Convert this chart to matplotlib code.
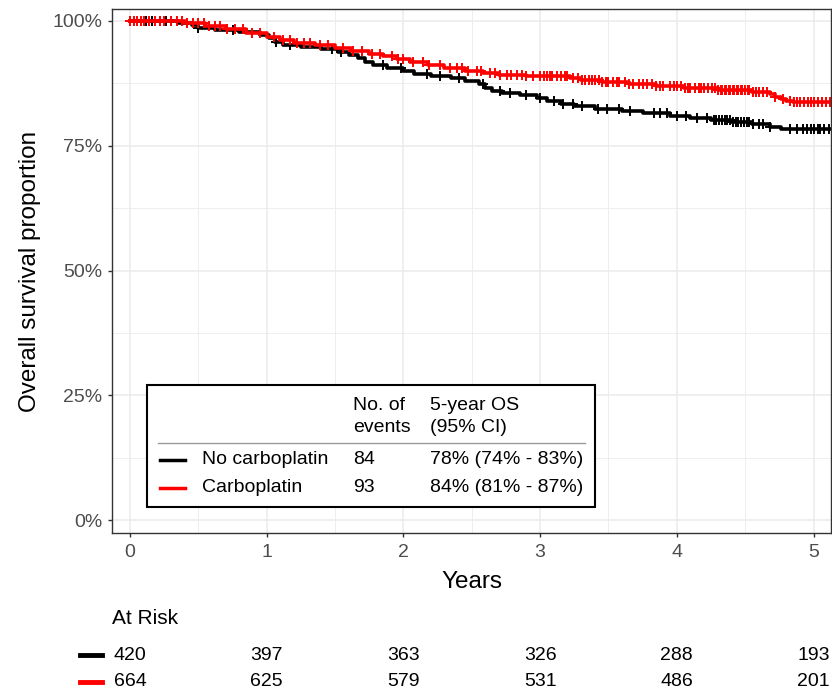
import matplotlib
matplotlib.use("Agg")
import matplotlib.pyplot as plt
import matplotlib.transforms as mtransforms
from matplotlib.lines import Line2D
from matplotlib.patches import Rectangle
import numpy as np

plt.rcParams['font.family'] = ['Liberation Sans', 'DejaVu Sans']

# Kaplan-Meier steps (time in years, survival after the step)
no_carbo_time = [0.0, 0.35, 0.45, 0.50, 0.62, 0.80, 0.95, 1.02, 1.06, 1.12, 1.25, 1.40,
                 1.52, 1.60, 1.67, 1.72, 1.78, 1.88, 2.00, 2.08, 2.20, 2.35, 2.45, 2.55,
                 2.60, 2.65, 2.72, 2.85, 2.98, 3.05, 3.15, 3.25, 3.40, 3.60, 3.75, 3.95,
                 4.10, 4.25, 4.40, 4.55, 4.68, 4.76, 5.30]
no_carbo_surv = [1.000, 0.996, 0.992, 0.985, 0.982, 0.978, 0.972, 0.965, 0.958, 0.952, 0.948, 0.943,
                 0.938, 0.932, 0.925, 0.918, 0.912, 0.906, 0.900, 0.894, 0.890, 0.885, 0.879, 0.873,
                 0.866, 0.860, 0.856, 0.851, 0.846, 0.840, 0.834, 0.830, 0.824, 0.820, 0.815, 0.810,
                 0.806, 0.802, 0.798, 0.794, 0.788, 0.783, 0.783]

carbo_time = [0.0, 0.40, 0.55, 0.70, 0.85, 1.00, 1.10, 1.20, 1.35, 1.50, 1.62, 1.75,
              1.85, 1.95, 2.05, 2.18, 2.30, 2.45, 2.58, 2.70, 2.90, 3.22, 3.30, 3.45,
              3.65, 3.85, 4.05, 4.30, 4.55, 4.68, 4.72, 4.76, 4.80, 4.85, 5.30]
carbo_surv = [1.000, 0.995, 0.990, 0.983, 0.976, 0.968, 0.962, 0.956, 0.951, 0.946, 0.940, 0.934,
              0.929, 0.924, 0.918, 0.912, 0.906, 0.900, 0.896, 0.892, 0.890, 0.886, 0.881, 0.877,
              0.873, 0.869, 0.865, 0.862, 0.858, 0.853, 0.848, 0.844, 0.840, 0.838, 0.838]

# censoring times
no_carbo_cens = [0.12, 0.16, 0.22, 0.26, 0.50, 0.75, 1.07, 1.17, 1.48, 1.54, 1.85, 1.98,
                 2.17, 2.27, 2.41, 2.58, 2.71, 2.78, 2.90, 3.00, 3.10, 3.17, 3.24, 3.31,
                 3.42, 3.49, 3.58, 3.66, 3.83, 3.88, 3.93, 4.00, 4.07, 4.15, 4.22, 4.27,
                 4.29, 4.31, 4.33, 4.35, 4.37, 4.39, 4.41, 4.43, 4.45, 4.47, 4.49, 4.51,
                 4.53, 4.56, 4.60, 4.63, 4.68, 4.83, 4.88, 4.92, 4.95, 4.98, 5.00, 5.03,
                 5.05, 5.08, 5.11]
carbo_cens = [0.00, 0.03, 0.05, 0.08, 0.10, 0.14, 0.18, 0.22, 0.25, 0.30, 0.34, 0.38,
              0.42, 0.46, 0.50, 0.54, 0.58, 0.62, 0.66, 0.71, 0.77, 0.83, 0.89, 0.95,
              1.05, 1.12, 1.17, 1.22, 1.27, 1.32, 1.39, 1.45, 1.56, 1.63, 1.70, 1.77,
              1.83, 1.92, 1.96, 2.00, 2.07, 2.14, 2.19, 2.27, 2.34, 2.39, 2.43, 2.47,
              2.54, 2.57, 2.63, 2.67, 2.71, 2.76, 2.79, 2.83, 2.87, 2.90, 2.95, 3.00,
              3.03, 3.05, 3.07, 3.09, 3.12, 3.15, 3.18, 3.20, 3.24, 3.28, 3.31, 3.33,
              3.36, 3.38, 3.40, 3.43, 3.45, 3.48, 3.50, 3.53, 3.56, 3.58, 3.62, 3.65,
              3.68, 3.72, 3.75, 3.78, 3.82, 3.85, 3.88, 3.90, 3.95, 3.98, 4.00, 4.03,
              4.06, 4.08, 4.10, 4.13, 4.16, 4.18, 4.20, 4.23, 4.26, 4.28, 4.30, 4.32,
              4.33, 4.35, 4.36, 4.38, 4.39, 4.41, 4.42, 4.44, 4.45, 4.47, 4.48, 4.50,
              4.52, 4.53, 4.56, 4.58, 4.60, 4.63, 4.66, 4.72, 4.78, 4.83, 4.86, 4.88,
              4.90, 4.93, 4.96, 4.98, 5.00, 5.03, 5.06, 5.09, 5.12]

group_names = ['No carboplatin', 'Carboplatin']
group_colors = ['black', '#FF0000']
n_events = ['84', '93']
os_5yr = ['78% (74% - 83%)', '84% (81% - 87%)']

risk_times = [0, 1, 2, 3, 4, 5]
risk_no_carbo = [420, 397, 363, 326, 288, 193]
risk_carbo = [664, 625, 579, 531, 486, 201]

W, H = 832, 692


def fx(px):
    return px / W


def fy(py):
    return 1 - py / H


def surv_at(times, surv, t):
    idx = np.searchsorted(times, t, side='right') - 1
    return np.asarray(surv)[idx]


fig = plt.figure(figsize=(W / 100, H / 100), dpi=100)
ax = fig.add_axes([fx(112), fy(533), fx(831) - fx(112), fy(9) - fy(533)])

# ggplot theme_bw look
ax.set_xlim(-0.132, 5.128)
ax.set_ylim(-0.026, 1.024)
ax.set_xticks([0, 1, 2, 3, 4, 5])
ax.set_xticks([0.5, 1.5, 2.5, 3.5, 4.5], minor=True)
ax.set_yticks([0, 0.25, 0.5, 0.75, 1.0])
ax.set_yticks([0.125, 0.375, 0.625, 0.875], minor=True)
ax.set_yticklabels(['0%', '25%', '50%', '75%', '100%'])
ax.grid(which='major', color='#EBEBEB', linewidth=1.1)
ax.grid(which='minor', color='#EBEBEB', linewidth=0.6)
ax.set_axisbelow(True)
for s in ax.spines.values():
    s.set_color('#333333')
    s.set_linewidth(1.0)
ax.tick_params(which='major', length=3, width=1.0, color='#333333',
               labelcolor='#4D4D4D', labelsize=14)
ax.tick_params(axis='x', which='major', pad=5)
ax.tick_params(axis='y', which='major', pad=4)
ax.tick_params(which='minor', length=0)
ax.set_xlabel('Years', fontsize=17.5, labelpad=7)
ax.set_ylabel('Overall survival proportion', fontsize=17.5, labelpad=8)

curves = [(no_carbo_time, no_carbo_surv, no_carbo_cens),
          (carbo_time, carbo_surv, carbo_cens)]
for (t, s, c), col in zip(curves, group_colors):
    ax.step(t, s, where='post', color=col, linewidth=2.6)
    ax.plot(c, surv_at(t, s, c), linestyle='none', marker='+', color=col,
            markersize=7.5, markeredgewidth=1.4)

# legend table
fig.add_artist(Rectangle((fx(147), fy(507)), fx(595) - fx(147), fy(385) - fy(507),
                         transform=fig.transFigure, facecolor='white',
                         edgecolor='black', linewidth=1.5))
fs = 14
fig.text(fx(353), fy(405), 'No. of', fontsize=fs, va='center')
fig.text(fx(353), fy(428), 'events', fontsize=fs, va='center')
fig.text(fx(430), fy(405), '5-year OS', fontsize=fs, va='center')
fig.text(fx(430), fy(428), '(95% CI)', fontsize=fs, va='center')
fig.add_artist(Line2D([fx(158), fx(585)], [fy(443), fy(443)], transform=fig.transFigure,
                      color='#999999', linewidth=1.0))
for i, row_y in enumerate([460, 488]):
    fig.add_artist(Line2D([fx(160), fx(185)], [fy(row_y), fy(row_y)], transform=fig.transFigure,
                          color=group_colors[i], linewidth=2.5))
    fig.text(fx(202), fy(row_y), group_names[i], fontsize=fs, va='center')
    fig.text(fx(353), fy(row_y), n_events[i], fontsize=fs, va='center')
    fig.text(fx(430), fy(row_y), os_5yr[i], fontsize=fs, va='center')

# at-risk table
fig.text(fx(112), fy(618), 'At Risk', fontsize=15, va='center')
blend = mtransforms.blended_transform_factory(ax.transData, fig.transFigure)
for i, (vals, row_y) in enumerate([(risk_no_carbo, 655), (risk_carbo, 682)]):
    fig.add_artist(Line2D([fx(80), fx(102)], [fy(row_y), fy(row_y)], transform=fig.transFigure,
                          color=group_colors[i], linewidth=3.5))
    for t, v in zip(risk_times, vals):
        ax.text(t, fy(row_y), str(v), transform=blend, fontsize=14,
                ha='center', va='center', clip_on=False)

fig.savefig('out.png', dpi=100)
